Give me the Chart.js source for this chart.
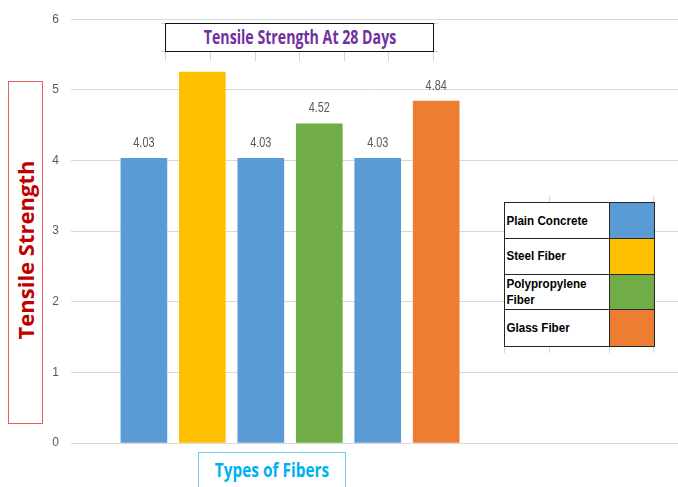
<!DOCTYPE html>
<html>
<head>
<meta charset="utf-8">
<script src="https://cdn.jsdelivr.net/npm/chart.js@4.4.0/dist/chart.umd.min.js"></script>
<style>
html,body{margin:0;padding:0;background:#fff;}
#wrap{position:relative;width:678px;height:487px;overflow:hidden;background:#fff;}
#c{position:absolute;left:0;top:0;}
.abs{position:absolute;box-sizing:border-box;}
</style>
</head>
<body>
<div id="wrap"><canvas id="c" width="678" height="487"></canvas></div>
<script>
// ---- data ----
const categories = ['Plain Concrete','Steel Fiber','Plain Concrete','Polypropylene Fiber','Plain Concrete','Glass Fiber'];
const strengths = [4.03, 5.25, 4.03, 4.52, 4.03, 4.84];
const barColors = ['#5b9bd5','#ffc000','#5b9bd5','#70ad47','#5b9bd5','#ed7d31'];
const showValue = [true, false, true, true, true, true];
const yTicks = [0, 1, 2, 3, 4, 5, 6];
const legendLabels = ['Plain Concrete','Steel Fiber','Polypropylene Fiber','Glass Fiber'];
const legendColors = ['#5b9bd5','#ffc000','#70ad47','#ed7d31'];
const chartTitle = 'Tensile Strength At 28 Days';
const yTitle = 'Tensile Strength';
const xTitle = 'Types of Fibers';

const wrap = document.getElementById('wrap');

const valueLabels = {
  id: 'valueLabels',
  afterDatasetsDraw(chart) {
    const ctx = chart.ctx;
    const meta = chart.getDatasetMeta(0);
    meta.data.forEach((bar, i) => {
      if (!showValue[i]) return;
      ctx.save();
      ctx.translate(bar.x, bar.y - 11.4);
      ctx.scale(0.75, 1);
      ctx.fillStyle = '#595959';
      ctx.font = '14.5px "Liberation Sans"';
      ctx.textAlign = 'center';
      ctx.textBaseline = 'alphabetic';
      ctx.fillText(strengths[i].toFixed(2), 0, 0);
      ctx.restore();
    });
  }
};

new Chart(document.getElementById('c'), {
  type: 'bar',
  data: {
    labels: categories,
    datasets: [{
      data: strengths.map((v, i) => ({ x: i, y: v })),
      backgroundColor: barColors,
      borderWidth: 0,
      barThickness: 46
    }]
  },
  options: {
    responsive: false,
    animation: false,
    layout: { padding: { left: 0, right: 0, top: 18, bottom: 44 } },
    plugins: { legend: { display: false }, tooltip: { enabled: false }, title: { display: false } },
    scales: {
      x: { type: 'linear', min: -1.247, max: 9.136, offset: false, display: false },
      y: {
        min: 0, max: 6,
        afterFit(s) { s.width = 71; },
        afterBuildTicks(s) { s.ticks = yTicks.map(v => ({ value: v })); },
        ticks: { padding: 12, color: '#595959', font: { family: 'Liberation Sans', size: 12 } },
        grid: { color: '#d9d9d9', lineWidth: 1, drawTicks: false },
        border: { display: false }
      }
    }
  },
  plugins: [valueLabels]
});

// ---- overlay helpers ----
function box(l, t, w, h, css) {
  const d = document.createElement('div');
  d.className = 'abs';
  d.style.cssText += `left:${l}px;top:${t}px;width:${w}px;height:${h}px;` + (css || '');
  wrap.appendChild(d);
  return d;
}
function text(txt, cx, cy, font, color, targetW, rot) {
  const s = document.createElement('div');
  s.textContent = txt;
  s.style.cssText = `position:absolute;left:${cx}px;top:${cy}px;white-space:nowrap;font:${font};color:${color};line-height:1;`;
  wrap.appendChild(s);
  const w = s.getBoundingClientRect().width;
  const k = targetW / w;
  s.style.transform = `translate(-50%,-50%) ${rot ? 'rotate(-90deg) ' : ''}scaleX(${k})`;
  return s;
}

// faint spreadsheet cell stubs
const stub = '#d4d4d4';
[165.7, 210, 255, 299.3, 344, 388.7, 433.3].forEach(x => box(x - 0.5, 51, 1, 10, `background:${stub};`));
[504.3, 549, 609, 653.3].forEach(x => box(x - 0.5, 345, 1, 8, `background:${stub};`));
[549, 653.3].forEach(x => box(x - 0.5, 196, 1, 7, `background:${stub};`));
box(161, 23, 5, 1, `background:${stub};`); box(433, 23, 5, 1, `background:${stub};`);
box(161, 51, 5, 1, `background:${stub};`); box(433, 51, 5, 1, `background:${stub};`);

// chart title
box(165, 22.5, 268.8, 29.5, 'border:1.5px solid #111;background:#fff;');
text(chartTitle, 299.5, 37, 'bold 19.5px "Open Sans"', '#7030a0', 192.5, false);

// y axis title
box(8, 80.5, 34.5, 343.5, 'border:1.5px solid #e06060;background:#fff;');
text(yTitle, 25.2, 250.4, 'bold 22px "Open Sans"', '#c00000', 179, true);

// x axis title
box(198.3, 451.7, 147.5, 60, 'border:1.5px solid #70d0f4;background:#fff;');
text(xTitle, 272.2, 470, 'bold 18.8px "Open Sans"', '#00b0f0', 114.3, false);

// legend table
const rowTops = [202, 237.75, 273.5, 309.25, 345];
legendLabels.forEach((lab, i) => {
  const t = rowTops[i], h = rowTops[i + 1] - t + 1.5;
  const cell = box(504, t, 106.5, h, 'border:1.5px solid #262626;background:#fff;display:flex;align-items:center;');
  const sp = document.createElement('div');
  sp.textContent = lab;
  sp.style.cssText = 'font:bold 12.5px "Liberation Sans";color:#000;line-height:16px;padding-left:1.5px;width:110px;transform-origin:left center;transform:scaleX(0.93);';
  cell.appendChild(sp);
  box(609, t, 45.8, h, `border:1.5px solid #262626;background:${legendColors[i]};`);
});
</script>
</body>
</html>
